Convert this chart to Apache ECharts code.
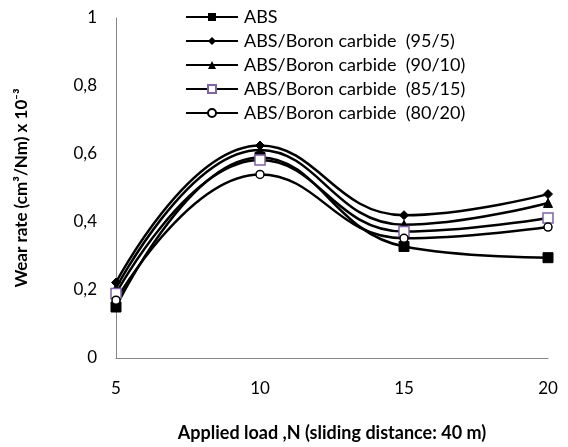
<!DOCTYPE html>
<html>
<head>
<meta charset="utf-8">
<script src="https://cdn.jsdelivr.net/npm/echarts@6/dist/echarts.min.js"></script>
<style>
  html, body { margin: 0; padding: 0; background: #fff; }
  #chart { width: 568px; height: 447px; }
</style>
</head>
<body>
<div id="chart"></div>
<script>
// Applied load (N)
const loads = [5, 10, 15, 20];

// Wear rate (cm3/Nm x 10^-3) for each material
const absOnly   = [0.150, 0.590, 0.328, 0.295];
const bc95_5    = [0.222, 0.625, 0.420, 0.482];
const bc90_10   = [0.205, 0.612, 0.392, 0.456];
const bc85_15   = [0.190, 0.582, 0.372, 0.412];
const bc80_20   = [0.170, 0.540, 0.352, 0.385];

const seriesNames = [
  'ABS',
  'ABS/Boron carbide  (95/5)',
  'ABS/Boron carbide  (90/10)',
  'ABS/Boron carbide  (85/15)',
  'ABS/Boron carbide  (80/20)'
];

const yTicks = [0, 0.2, 0.4, 0.6, 0.8, 1];

const FONT = 'Lato, "Open Sans", sans-serif';

function pairs(values) {
  return loads.map((x, i) => [x, values[i]]);
}

function lineSeries(name, values, symbol, size, itemStyle) {
  return {
    name: name,
    type: 'line',
    data: pairs(values),
    smooth: 0.45,
    symbol: symbol,
    symbolSize: size,
    showAllSymbol: true,
    lineStyle: { color: '#000', width: 2.5 },
    itemStyle: itemStyle,
    z: 3
  };
}

const chart = echarts.init(document.getElementById('chart'), null, { renderer: 'canvas' });

chart.setOption({
  animation: false,
  backgroundColor: '#fff',
  grid: { left: 116, right: 20, top: 18, bottom: 83, containLabel: false },
  legend: {
    orient: 'vertical',
    left: 185,
    top: 8,
    padding: 0,
    itemWidth: 52,
    itemHeight: 10,
    itemGap: 6,
    data: seriesNames,
    textStyle: { fontFamily: FONT, fontSize: 18, color: '#000', padding: [0, 0, 0, 1] }
  },
  xAxis: {
    type: 'value',
    min: 5,
    max: 20,
    interval: 5,
    name: 'Applied load ,N (sliding distance: 40 m)',
    nameLocation: 'middle',
    nameGap: 66,
    nameTextStyle: { fontFamily: FONT, fontSize: 18, fontWeight: 'bold', color: '#000' },
    axisLine: { lineStyle: { color: '#868686', width: 1 } },
    axisTick: { show: false },
    splitLine: { show: false },
    axisLabel: { fontFamily: FONT, fontSize: 17, color: '#000', margin: 22 }
  },
  yAxis: {
    type: 'value',
    min: 0,
    max: 1,
    interval: 0.2,
    name: 'Wear rate (cm³/Nm) x 10⁻³',
    nameLocation: 'middle',
    nameGap: 86,
    nameTextStyle: { fontFamily: FONT, fontSize: 17, fontWeight: 'bold', color: '#000' },
    axisLine: { show: true, lineStyle: { color: '#868686', width: 1 } },
    axisTick: { show: false },
    splitLine: { show: false },
    axisLabel: {
      fontFamily: FONT, fontSize: 17, color: '#000', margin: 19,
      formatter: v => {
        const t = yTicks.find(k => Math.abs(k - v) < 1e-9);
        return String(t !== undefined ? t : v).replace('.', ',');
      }
    }
  },
  series: [
    lineSeries(seriesNames[0], absOnly, 'rect', 10, { color: '#000', borderColor: '#000' }),
    lineSeries(seriesNames[1], bc95_5, 'diamond', 9, { color: '#000', borderColor: '#000' }),
    lineSeries(seriesNames[2], bc90_10, 'triangle', 9, { color: '#000', borderColor: '#000' }),
    lineSeries(seriesNames[3], bc85_15, 'rect', 10, { color: '#fff', borderColor: '#7f62a8', borderWidth: 1.5 }),
    lineSeries(seriesNames[4], bc80_20, 'circle', 8, { color: '#fff', borderColor: '#000', borderWidth: 1.5 })
  ]
});
</script>
</body>
</html>
